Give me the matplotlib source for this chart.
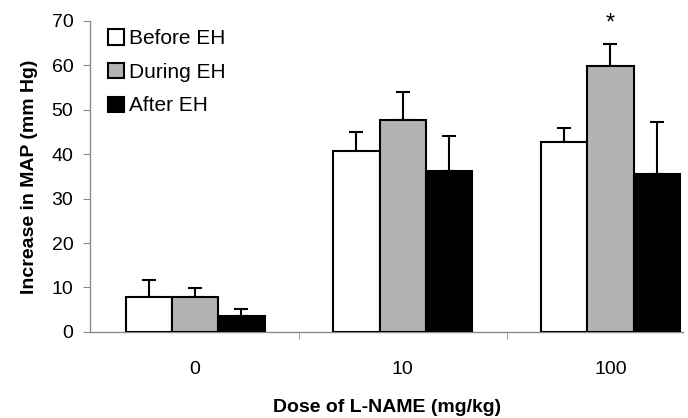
"""Increase in MAP by L-NAME dose, before/during/after EH."""

import matplotlib

matplotlib.use("Agg")

import matplotlib.pyplot as plt
import numpy as np

plt.rcParams["font.family"] = ["Liberation Sans", "DejaVu Sans"]

doses = ["0", "10", "100"]
series = ["Before EH", "During EH", "After EH"]
before = [7.8, 40.7, 42.8]
during = [7.8, 47.6, 59.9]
after = [3.6, 36.3, 35.6]
before_err = [3.9, 4.2, 3.2]
during_err = [2.0, 6.3, 5.0]
after_err = [1.6, 7.7, 11.7]
significant = [(2, 1)]  # (dose index, series index) marked with *

_COLOURS = ["white", "#b3b3b3", "black"]
_AXIS_GREY = "#8c8c8c"
_FS = 14

values = [before, during, after]
errors = [before_err, during_err, after_err]

fig = plt.figure(figsize=(6.88, 4.18), dpi=100)
ax = fig.add_axes([0.131, 0.206, 0.862, 0.744])

positions = np.arange(len(doses))
width = 0.223
for i, (name, vals, errs) in enumerate(zip(series, values, errors)):
    x = positions + (i - 1) * width
    ax.bar(
        x, vals, width, color=_COLOURS[i], edgecolor="black", linewidth=1.5,
        label=name, zorder=3,
    )
    ax.errorbar(
        x, vals, yerr=[np.zeros(len(vals)), errs], fmt="none", ecolor="black",
        elinewidth=1.5, capsize=5, capthick=1.5, zorder=2,
    )

for d, s in significant:
    top = values[s][d] + errors[s][d]
    ax.text(
        positions[d] + (s - 1) * width, top + 2.0, "*", ha="center", va="bottom",
        fontsize=17,
    )

ax.set_xlim(-0.505, 2.35)
ax.set_ylim(0, 70)
ax.set_yticks(np.arange(0, 71, 10))
ax.set_xticks(positions)
ax.set_xticklabels(doses)
ax.set_xticks([0.5, 1.5], minor=True)
ax.tick_params(axis="x", which="major", length=0, pad=21, labelsize=_FS)
ax.tick_params(axis="x", which="minor", length=5, color=_AXIS_GREY, direction="out")
ax.tick_params(axis="y", length=5, color=_AXIS_GREY, labelsize=_FS, pad=7)

for side in ("top", "right"):
    ax.spines[side].set_visible(False)
for side in ("left", "bottom"):
    ax.spines[side].set_color(_AXIS_GREY)
    ax.spines[side].set_linewidth(1.0)

ax.set_xlabel("Dose of L-NAME (mg/kg)", fontsize=_FS, fontweight="bold", labelpad=15)
ax.set_ylabel("Increase in MAP (mm Hg)", fontsize=_FS, fontweight="bold", labelpad=10)

ax.legend(
    loc="upper left", bbox_to_anchor=(0.016, 1.0), frameon=False, fontsize=15,
    handlelength=0.75, handleheight=0.75, handletextpad=0.25, labelspacing=0.7,
    borderaxespad=0,
)

fig.savefig("out.png", dpi=100, facecolor="white")
